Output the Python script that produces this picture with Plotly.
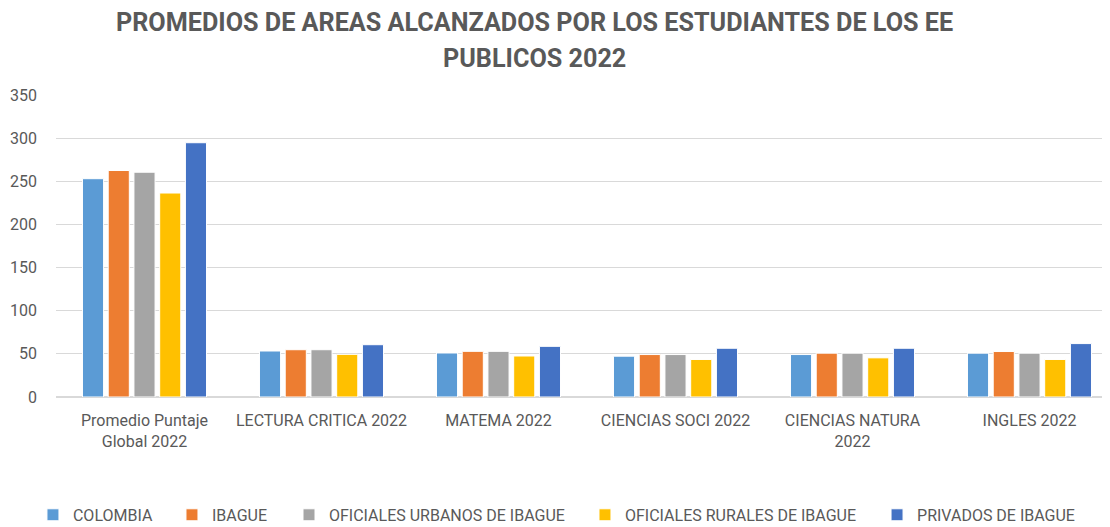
import plotly.graph_objects as go

categorias = [
    "Promedio Puntaje<br>Global 2022",
    "LECTURA CRITICA 2022",
    "MATEMA 2022",
    "CIENCIAS SOCI 2022",
    "CIENCIAS NATURA<br>2022",
    "INGLES 2022",
]

colombia = [253, 53.3, 51.0, 47.3, 49.2, 50.8]
ibague = [262.5, 54.8, 52.9, 49.2, 50.8, 52.7]
urbanos = [260.5, 54.8, 52.9, 49.2, 50.8, 50.8]
rurales = [236.4, 49.4, 47.5, 43.5, 45.4, 43.5]
privados = [294.7, 60.6, 58.7, 56.5, 56.5, 61.9]

titulo = ["PROMEDIOS DE AREAS ALCANZADOS POR LOS ESTUDIANTES DE LOS EE", "PUBLICOS 2022"]

series = [
    ("COLOMBIA", colombia, "#5B9BD5"),
    ("IBAGUE", ibague, "#ED7D31"),
    ("OFICIALES URBANOS DE IBAGUE", urbanos, "#A5A5A5"),
    ("OFICIALES RURALES DE IBAGUE", rurales, "#FFC000"),
    ("PRIVADOS DE IBAGUE", privados, "#4472C4"),
]

# one legend per series so the uneven Excel spacing can be kept
legend_x = [-0.0217, 0.1092, 0.2194, 0.4981, 0.7731]

FONT = "Roboto, Noto Sans, sans-serif"
GRIS = "#595959"

fig = go.Figure()
for i, (nombre, valores, color) in enumerate(series):
    fig.add_trace(go.Bar(
        x=categorias,
        y=valores,
        name=nombre,
        showlegend=True,
        legend="legend" if i == 0 else f"legend{i + 1}",
        marker=dict(color=color, line=dict(color="white", width=1)),
    ))

# title as two annotations (Excel-style wide line spacing)
for texto, yy in zip(titulo, [1.2417, 1.1225]):
    fig.add_annotation(
        text=f"<b>{texto}</b>",
        xref="paper", yref="paper",
        x=0.4508, y=yy,
        xanchor="center", yanchor="middle",
        showarrow=False,
        font=dict(family=FONT, size=25.2, color=GRIS),
    )

legends = {}
for i, lx in enumerate(legend_x):
    key = "legend" if i == 0 else f"legend{i + 1}"
    legends[key] = dict(
        orientation="h",
        x=lx,
        xanchor="left",
        y=-0.334,
        yanchor="top",
        font=dict(family=FONT, size=16, color=GRIS),
        itemwidth=30,
        bgcolor="rgba(0,0,0,0)",
    )

fig.update_layout(
    width=1110,
    height=527,
    showlegend=True,
    barmode="group",
    bargap=0.273,
    bargroupgap=0.18,
    plot_bgcolor="white",
    paper_bgcolor="white",
    font=dict(family=FONT, size=16, color=GRIS),
    margin=dict(l=48, r=0, t=87, b=138, autoexpand=False),
    xaxis=dict(
        showgrid=False,
        tickfont=dict(size=16, color=GRIS),
        ticks="",
        tickangle=0,
        ticklabelstandoff=12,
    ),
    yaxis=dict(
        range=[0, 350],
        dtick=50,
        gridcolor="#D9D9D9",
        gridwidth=1,
        zeroline=True,
        zerolinecolor="#D9D9D9",
        zerolinewidth=2,
        tickfont=dict(size=16, color=GRIS),
        ticklabelstandoff=18,
    ),
    **legends,
)

fig.write_html("out.html")
